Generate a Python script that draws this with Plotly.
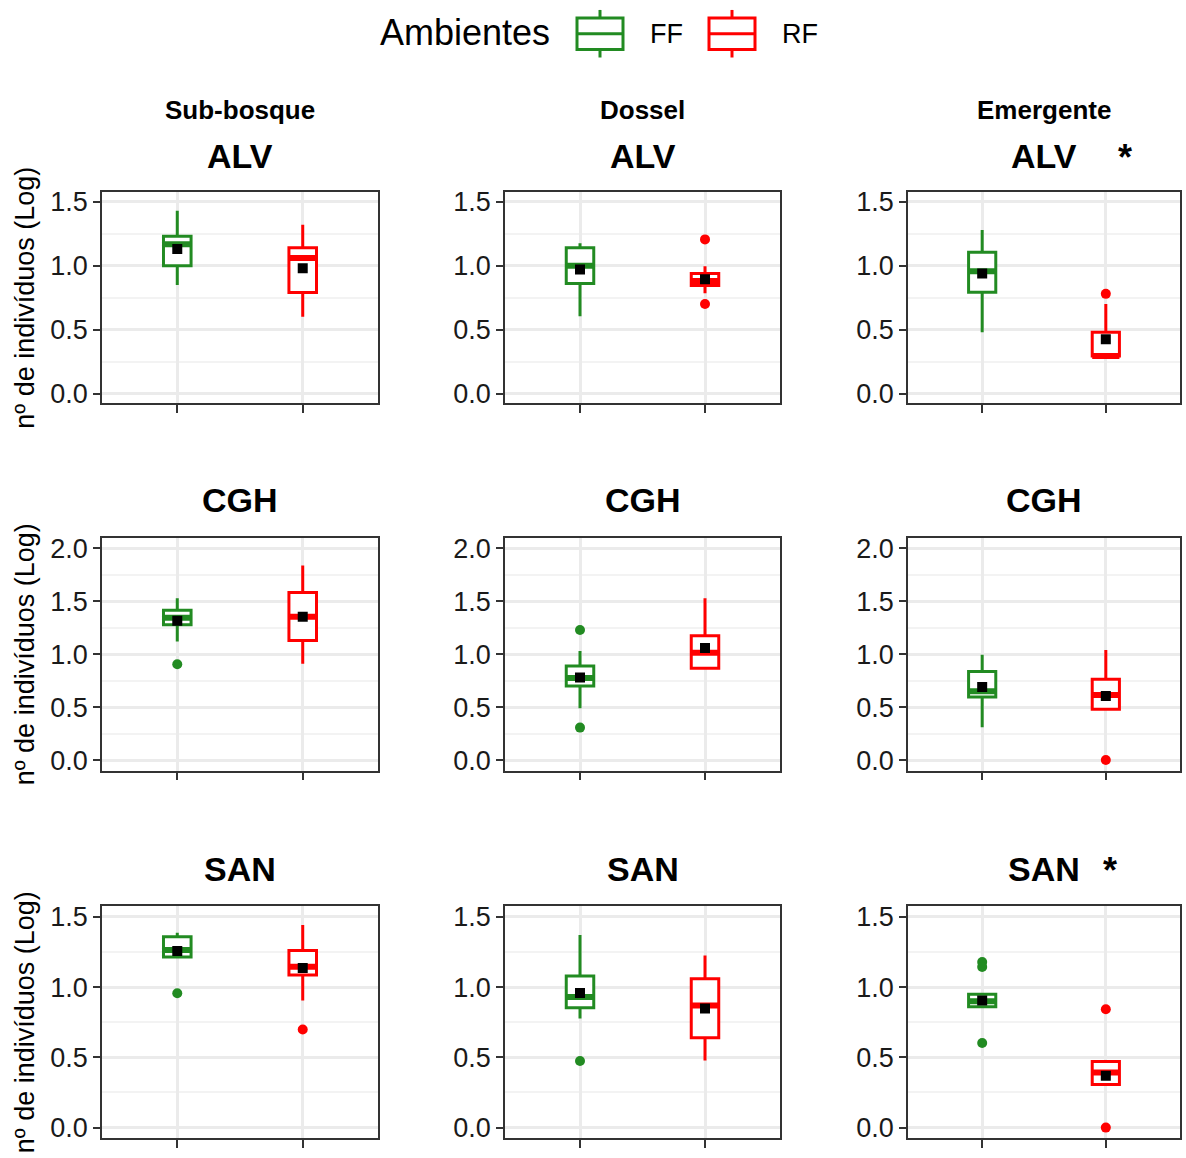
import plotly.graph_objects as go

W, H = 1186, 1158

columns = ["Sub-bosque", "Dossel", "Emergente"]
species = ["ALV", "CGH", "SAN"]
groups = ["FF", "RF"]
group_pos = [1, 2]
significant = {"ALV": "Emergente", "SAN": "Emergente"}

# panels in row-major order: ALV(sub,dos,emer), CGH(...), SAN(...)
FF_q1 = [1.00, 0.86, 0.793, 1.28, 0.70, 0.595, 1.214, 0.853, 0.86]
FF_med = [1.167, 1.00, 0.957, 1.345, 0.775, 0.65, 1.265, 0.93, 0.90]
FF_q3 = [1.23, 1.14, 1.105, 1.417, 0.89, 0.837, 1.358, 1.079, 0.95]
FF_lo = [0.85, 0.605, 0.48, 1.12, 0.49, 0.31, 1.214, 0.777, 0.86]
FF_hi = [1.43, 1.175, 1.28, 1.53, 1.03, 0.995, 1.388, 1.372, 0.95]
FF_mean = [1.13, 0.97, 0.94, 1.318, 0.78, 0.69, 1.258, 0.958, 0.905]
FF_out = [[], [], [], [0.905], [1.23, 0.307], [], [0.956], [0.474], [1.179, 1.144, 0.602]]

RF_q1 = [0.79, 0.845, 0.293, 1.13, 0.868, 0.48, 1.086, 0.64, 0.307]
RF_med = [1.06, 0.88, 0.293, 1.355, 1.015, 0.614, 1.145, 0.87, 0.393]
RF_q3 = [1.14, 0.94, 0.48, 1.585, 1.175, 0.763, 1.26, 1.06, 0.47]
RF_lo = [0.60, 0.785, 0.293, 0.91, 0.856, 0.48, 0.905, 0.477, 0.307]
RF_hi = [1.32, 0.995, 0.70, 1.84, 1.53, 1.04, 1.442, 1.226, 0.47]
RF_mean = [0.98, 0.894, 0.424, 1.355, 1.06, 0.605, 1.137, 0.847, 0.37]
RF_out = [[], [1.206, 0.70], [0.78], [], [], [0.0], [0.698], [], [0.842, 0.0]]

row_yrange = [[-0.075, 1.575], [-0.1, 2.1], [-0.075, 1.575]]
row_ytick = [[0, 0.5, 1.0, 1.5], [0, 0.5, 1.0, 1.5, 2.0], [0, 0.5, 1.0, 1.5]]

colors = {"FF": "#228B22", "RF": "#FF0000"}
FONT = "Liberation Sans, Arial, sans-serif"
BOX_W = 0.22

# layout geometry (pixels)
col_px = [(102, 378), (505, 780), (908, 1180)]
row_px = [(189, 402), (538, 773), (910, 1144)]


def px_x(x):
    return x / W


def px_y(y):
    return 1 - y / H


fig = go.Figure()
stats = {
    "FF": (FF_q1, FF_med, FF_q3, FF_lo, FF_hi, FF_mean, FF_out),
    "RF": (RF_q1, RF_med, RF_q3, RF_lo, RF_hi, RF_mean, RF_out),
}

annotations = []
for i in range(9):
    r, c = divmod(i, 3)
    k = i + 1
    xa = "x" if k == 1 else f"x{k}"
    ya = "y" if k == 1 else f"y{k}"
    for g, pos in zip(groups, group_pos):
        q1, med, q3, lo, hi, mean, out = stats[g]
        col = colors[g]
        fig.add_trace(go.Box(
            x=[pos], q1=[q1[i]], median=[med[i]], q3=[q3[i]],
            lowerfence=[lo[i]], upperfence=[hi[i]],
            width=BOX_W, whiskerwidth=0, fillcolor="white",
            line=dict(color=col, width=3), boxpoints=False,
            xaxis=xa, yaxis=ya, showlegend=False, hoverinfo="skip"))
        fig.add_trace(go.Scatter(
            x=[pos - BOX_W / 2, pos + BOX_W / 2], y=[med[i], med[i]],
            mode="lines", line=dict(color=col, width=6),
            xaxis=xa, yaxis=ya, showlegend=False, hoverinfo="skip"))
        if out[i]:
            fig.add_trace(go.Scatter(
                x=[pos] * len(out[i]), y=out[i], mode="markers",
                marker=dict(color=col, size=10, symbol="circle"),
                xaxis=xa, yaxis=ya, showlegend=False, hoverinfo="skip", cliponaxis=False))
        fig.add_trace(go.Scatter(
            x=[pos], y=[mean[i]], mode="markers",
            marker=dict(color="black", size=10, symbol="square"),
            xaxis=xa, yaxis=ya, showlegend=False, hoverinfo="skip"))

    x0, x1 = col_px[c]
    y0, y1 = row_px[r]
    fig.layout[f"xaxis{'' if k == 1 else k}"] = dict(
        domain=[px_x(x0), px_x(x1)], anchor=ya, range=[0.4, 2.6],
        tickvals=group_pos, ticktext=["", ""], ticks="outside", ticklen=8,
        tickwidth=2, tickcolor="#333333", showgrid=True, gridcolor="#EBEBEB",
        gridwidth=2.5, showline=True, mirror=True, linecolor="#333333",
        linewidth=1.5, zeroline=False, fixedrange=True)
    fig.layout[f"yaxis{'' if k == 1 else k}"] = dict(
        domain=[px_y(y1), px_y(y0)], anchor=xa, range=row_yrange[r],
        tickvals=row_ytick[r], ticktext=[f"{v:.1f}" for v in row_ytick[r]],
        ticks="outside", ticklen=7, tickwidth=2, tickcolor="#333333",
        tickfont=dict(family=FONT, size=27, color="#1a1a1a"),
        showgrid=True, gridcolor="#EBEBEB", gridwidth=2.5,
        minor=dict(dtick=0.25, tick0=0, showgrid=True, gridcolor="#F3F3F3", gridwidth=1.5, ticks=""),
        showline=True, mirror=True, linecolor="#333333", linewidth=1.5,
        zeroline=False, fixedrange=True)

    cx = px_x((x0 + x1) / 2)
    title_y = {0: 152, 1: 500, 2: 872}[r]
    annotations.append(dict(
        text=f"<b>{species[r]}</b>", x=cx, y=px_y(title_y), xref="paper", yref="paper",
        xanchor="center", yanchor="middle", showarrow=False,
        font=dict(family=FONT, size=34, color="black")))
    if significant.get(species[r]) == columns[c]:
        star_x = {0: 1125, 2: 1110}[r]
        annotations.append(dict(
            text="<b>*</b>", x=px_x(star_x), y=px_y(title_y + 2), xref="paper", yref="paper",
            xanchor="center", yanchor="middle", showarrow=False,
            font=dict(family=FONT, size=36, color="black")))
    if r == 0:
        annotations.append(dict(
            text=f"<b>{columns[c]}</b>", x=cx, y=px_y(106), xref="paper", yref="paper",
            xanchor="center", yanchor="middle", showarrow=False,
            font=dict(family=FONT, size=26, color="black")))
    if c == 0:
        annotations.append(dict(
            text="nº de indivíduos (Log)", x=px_x(25), y=px_y((y0 + y1) / 2),
            xref="paper", yref="paper", xanchor="center", yanchor="middle",
            textangle=-90, showarrow=False,
            font=dict(family=FONT, size=27, color="black")))

# legend (drawn manually to mimic ggplot boxplot keys)
annotations.append(dict(text="Ambientes", x=px_x(378), y=px_y(28), xref="paper", yref="paper",
                        xanchor="left", yanchor="middle", showarrow=False,
                        font=dict(family=FONT, size=36, color="black")))
shapes = []
legend_keys = [("FF", 577, 648), ("RF", 709, 780)]
for g, kx, tx in legend_keys:
    col = colors[g]
    mid = kx + 23
    shapes.append(dict(type="rect", xref="paper", yref="paper", x0=px_x(kx), x1=px_x(kx + 46),
                       y0=px_y(45), y1=px_y(13), line=dict(color=col, width=3), fillcolor="white"))
    shapes.append(dict(type="line", xref="paper", yref="paper", x0=px_x(kx), x1=px_x(kx + 46),
                       y0=px_y(29), y1=px_y(29), line=dict(color=col, width=3)))
    shapes.append(dict(type="line", xref="paper", yref="paper", x0=px_x(mid), x1=px_x(mid),
                       y0=px_y(13), y1=px_y(5), line=dict(color=col, width=3)))
    shapes.append(dict(type="line", xref="paper", yref="paper", x0=px_x(mid), x1=px_x(mid),
                       y0=px_y(53), y1=px_y(45), line=dict(color=col, width=3)))
    annotations.append(dict(text=g, x=px_x(tx), y=px_y(29), xref="paper", yref="paper",
                            xanchor="left", yanchor="middle", showarrow=False,
                            font=dict(family=FONT, size=27, color="black")))

fig.update_layout(
    width=W, height=H, margin=dict(l=0, r=0, t=0, b=0),
    paper_bgcolor="white", plot_bgcolor="white", showlegend=False,
    boxmode="overlay", annotations=annotations, shapes=shapes,
    font=dict(family=FONT),
)

fig.write_html("out.html", config={"displayModeBar": False},
               post_script="document.body.style.margin='0';")
